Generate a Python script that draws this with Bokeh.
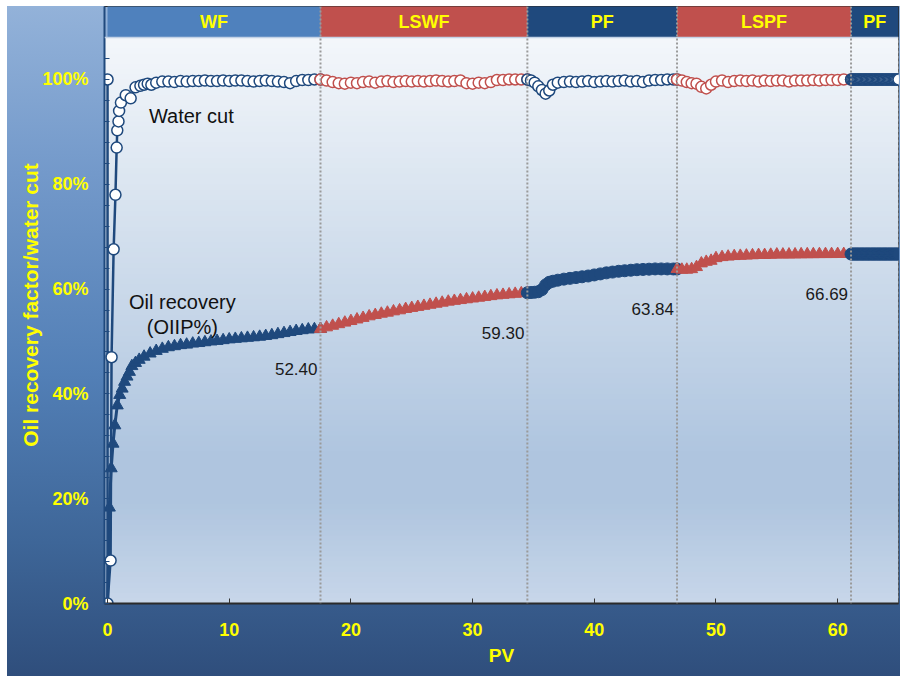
import numpy as np
from bokeh.plotting import figure
from bokeh.models import Range1d, FixedTicker, PrintfTickFormatter, Span
from bokeh.core.properties import value
from bokeh.embed import file_html
from bokeh.resources import INLINE

# ---------------- data ----------------
phase_names = ["WF", "LSWF", "PF", "LSPF", "PF"]
phase_bounds = [0.0, 17.5, 34.5, 46.8, 61.1, 65.0]
end_recovery = [52.40, 59.30, 63.84, 66.69]

x_ticks = [0, 10, 20, 30, 40, 50, 60]
y_ticks = [0, 20, 40, 60, 80, 100]
y_minor_ticks = [4, 8, 12, 16, 24, 28, 32, 36, 44, 48, 52, 56, 64, 68, 72, 76,
                 84, 88, 92, 96, 104, 108]

# WF
pv_wf_oil = [0, 0.15, 0.3, 0.45, 0.6, 0.8, 1.0, 1.2, 1.4, 1.6, 1.8, 2.0, 2.3, 2.6,
             3.0, 3.5, 4.0, 4.5, 5.0, 5.5, 6.0, 6.5, 7.0, 7.5, 8.0, 8.5, 9.0, 9.5,
             10.0, 10.5, 11.0, 11.5, 12.0, 12.5, 13.0, 13.5, 14.0, 14.5, 15.0,
             15.5, 16.0, 16.5, 17.0, 17.5]
oil_wf = [0, 18.3, 25.8, 30.5, 34.0, 37.8, 39.8, 41.0, 42.3, 43.3, 44.2, 45.3, 45.9, 46.5,
          47.1, 47.7, 48.2, 48.6, 48.9, 49.1, 49.3, 49.4, 49.6, 49.7, 49.85, 50.0, 50.1, 50.25,
          50.4, 50.5, 50.6, 50.7, 50.8, 50.9, 51.05, 51.2, 51.4, 51.6, 51.8,
          52.0, 52.15, 52.3, 52.35, 52.4]
pv_wf_wc = [0, 0, 0.25, 0.33, 0.5, 0.65, 0.75, 0.8, 0.9, 0.95, 1.1, 1.5, 1.9, 2.3, 2.7,
            3.0, 3.3, 3.6, 4.0, 4.5, 5.0, 5.5, 6.0, 6.5, 7.0, 7.5, 8.0, 8.5, 9.0, 9.5,
            10.0, 10.5, 11.0, 11.5, 12.0, 12.5, 13.0, 13.5, 14.0, 14.5, 15.0, 15.5,
            16.0, 16.5, 17.0, 17.5]
wc_wf = [100, 0, 8.2, 47.0, 67.6, 78.0, 87.0, 90.3, 92.0, 94.0, 95.6, 97.0, 96.4, 98.5, 98.8,
         99.0, 99.2, 99.0, 99.4, 99.6, 99.6, 99.5, 99.7, 99.6, 99.7, 99.7, 99.8, 99.7, 99.7, 99.8,
         99.7, 99.8, 99.8, 99.7, 99.6, 99.7, 99.8, 99.7, 99.6, 99.5, 99.3, 99.7,
         99.9, 99.9, 100, 100]

# LSWF
pv_lswf = [17.5, 18.0, 18.5, 19.0, 19.5, 20.0, 20.5, 21.0, 21.5, 22.0, 22.5, 23.0,
           23.5, 24.0, 24.5, 25.0, 25.5, 26.0, 26.5, 27.0, 27.5, 28.0, 28.5, 29.0,
           29.5, 30.0, 30.5, 31.0, 31.5, 32.0, 32.5, 33.0, 33.5, 34.0, 34.5]
oil_lswf = [52.4, 52.7, 53.0, 53.3, 53.6, 53.9, 54.2, 54.5, 54.8, 55.05, 55.3, 55.5,
            55.75, 55.95, 56.2, 56.4, 56.6, 56.8, 57.0, 57.2, 57.4, 57.6, 57.75, 57.9,
            58.05, 58.2, 58.35, 58.5, 58.65, 58.8, 58.9, 59.0, 59.1, 59.2, 59.3]
wc_lswf = [100, 99.8, 99.5, 99.3, 99.2, 99.4, 99.3, 99.5, 99.6, 99.4, 99.6, 99.7,
           99.5, 99.6, 99.7, 99.6, 99.7, 99.6, 99.7, 99.8, 99.7, 99.6, 99.7, 99.8,
           99.3, 99.2, 99.4, 99.3, 99.5, 99.9, 99.9, 100, 100, 100, 100]

# PF
pv_pf1 = [34.5, 34.8, 35.1, 35.4, 35.7, 36.0, 36.3, 36.6, 37.0, 37.5, 38.0, 38.5,
          39.0, 39.5, 40.0, 40.5, 41.0, 41.5, 42.0, 42.5, 43.0, 43.5, 44.0, 44.5,
          45.0, 45.5, 46.0, 46.5, 46.8]
oil_pf1 = [59.3, 59.35, 59.4, 59.5, 59.9, 60.8, 61.3, 61.5, 61.7, 61.9, 62.05, 62.2,
           62.35, 62.5, 62.7, 62.9, 63.1, 63.25, 63.4, 63.5, 63.6, 63.7, 63.75, 63.8,
           63.85, 63.85, 63.85, 63.84, 63.84]
wc_pf1 = [100, 99.8, 99.4, 98.7, 98.0, 97.3, 97.9, 99.0, 99.4, 99.5, 99.6, 99.5,
          99.6, 99.7, 99.5, 99.6, 99.7, 99.6, 99.7, 99.8, 99.6, 99.7, 99.5, 99.8,
          99.9, 99.9, 100, 100, 100]

# LSPF
pv_lspf = [46.8, 47.2, 47.6, 48.0, 48.4, 48.8, 49.2, 49.6, 50.0, 50.5, 51.0, 51.5,
           52.0, 52.5, 53.0, 53.5, 54.0, 54.5, 55.0, 55.5, 56.0, 56.5, 57.0, 57.5,
           58.0, 58.5, 59.0, 59.5, 60.0, 60.5, 61.1]
oil_lspf = [63.84, 63.7, 63.7, 63.8, 64.2, 64.9, 65.2, 65.4, 65.9, 66.1, 66.2, 66.3,
            66.35, 66.4, 66.45, 66.5, 66.5, 66.55, 66.6, 66.6, 66.6, 66.62, 66.64, 66.65,
            66.66, 66.67, 66.68, 66.68, 66.69, 66.69, 66.69]
wc_lspf = [100, 99.8, 99.5, 99.3, 99.2, 98.6, 98.3, 99.0, 99.6, 99.8, 99.5, 99.7,
           99.8, 99.7, 99.8, 99.6, 99.8, 99.7, 99.8, 99.8, 99.6, 99.8, 99.8, 99.8,
           99.9, 99.8, 99.9, 99.9, 99.9, 100, 100]

# PF (final)
pv_pf2 = [61.1, 61.2, 61.3, 61.4, 61.5, 61.6, 61.7, 61.8, 61.9, 62.0,
          62.1, 62.2, 62.3, 62.4, 62.5, 62.6, 62.7, 62.8, 62.9, 63.0,
          63.1, 63.2, 63.3, 63.4, 63.5, 63.6, 63.7, 63.8, 63.9, 64.0,
          64.1, 64.2, 64.3, 64.4, 64.5, 64.6, 64.7, 64.8, 64.9, 65.0]
oil_pf2 = [66.69, 66.69, 66.69, 66.69, 66.69, 66.69, 66.69, 66.69, 66.69, 66.69,
           66.69, 66.69, 66.69, 66.69, 66.69, 66.69, 66.69, 66.69, 66.69, 66.69,
           66.69, 66.69, 66.69, 66.69, 66.69, 66.69, 66.69, 66.69, 66.69, 66.69,
           66.69, 66.69, 66.69, 66.69, 66.69, 66.69, 66.69, 66.69, 66.69, 66.69]
wc_pf2 = [100, 100, 100, 100, 100, 100, 100, 100, 100, 100,
          100, 100, 100, 100, 100, 100, 100, 100, 100, 100,
          100, 100, 100, 100, 100, 100, 100, 100, 100, 100,
          100, 100, 100, 100, 100, 100, 100, 100, 100, 100]

# ---------------- styling ----------------
BLUE = "#1f497d"
RED = "#c0504d"
band_colors = ["#4f81bd", RED, BLUE, RED, BLUE]
YELLOW = "#ffff00"
FONT = "Liberation Sans"

X_START = -0.25
X_END = 65.0
Y_TOP = 113.93
BAND_BOTTOM = 108

p = figure(width=900, height=676, output_backend="svg", toolbar_location=None,
           x_range=Range1d(X_START, X_END), y_range=Range1d(0, Y_TOP),
           min_border_left=104, min_border_right=2, min_border_top=6,
           min_border_bottom=73,
           background_fill_color=None, border_fill_color=None,
           outline_line_color="#2b2b2b", outline_line_width=1)
p.styles = {"background": "linear-gradient(to bottom, #93b2d9 0%, #7399ca 25%, "
                          "#527fb6 55%, #3e6698 80%, #2f4e7c 100%) 7px 6px / 893px 670px no-repeat, #ffffff"}
p.xgrid.visible = False
p.ygrid.visible = False

# plot-area gradient (overlapping strips)
stops_y = [0, 19.7, 29.2, 76.9, 108]
stops_c = ["#c8d7ea", "#afc5df", "#b0c6e0", "#d9e4f0", "#f4f7fb"]
def hex2rgb(h):
    h = h.lstrip("#")
    return [int(h[i:i + 2], 16) for i in (0, 2, 4)]
rgb = np.array([hex2rgb(c) for c in stops_c], dtype=float)
edges = np.linspace(0, BAND_BOTTOM, 109)
mids = (edges[:-1] + edges[1:]) / 2
cols = []
for m in mids:
    r = np.interp(m, stops_y, rgb[:, 0])
    g = np.interp(m, stops_y, rgb[:, 1])
    b = np.interp(m, stops_y, rgb[:, 2])
    cols.append("#%02x%02x%02x" % (int(r), int(g), int(b)))
tops = np.minimum(edges[1:] + 0.5, BAND_BOTTOM)
p.quad(left=X_START, right=X_END, bottom=edges[:-1], top=tops,
       fill_color=cols, line_color=None, level="underlay")

# phase bands on top
p.quad(left=phase_bounds[:-1], right=phase_bounds[1:], bottom=BAND_BOTTOM, top=Y_TOP + 1,
       fill_color=band_colors, line_color=None, level="underlay")
p.add_layout(Span(location=BAND_BOTTOM, dimension="width", line_color="#c3d2e6",
                  line_width=1.5))
centers = [(a + b) / 2 for a, b in zip(phase_bounds[:-1], phase_bounds[1:])]
p.text(x=centers, y=(BAND_BOTTOM + Y_TOP) / 2, text=phase_names,
       text_align="center", text_baseline="middle", text_font=value(FONT),
       text_font_style="bold", text_font_size="18px", text_color=YELLOW)

for b in phase_bounds[1:-1]:
    p.add_layout(Span(location=b, dimension="height", line_color="#9a9a9a",
                      line_width=2, line_dash="2 2"))

# series
segments = [
    (pv_wf_oil, oil_wf, pv_wf_wc, wc_wf, BLUE, "triangle"),
    (pv_lswf, oil_lswf, pv_lswf, wc_lswf, RED, "triangle"),
    (pv_pf1, oil_pf1, pv_pf1, wc_pf1, BLUE, "circle"),
    (pv_lspf, oil_lspf, pv_lspf, wc_lspf, RED, "triangle"),
    (pv_pf2, oil_pf2, pv_pf2, wc_pf2, BLUE, "circle"),
]
for xo, yo, xw, yw, c, mk in segments:
    p.line(xo, yo, line_color=c, line_width=3)
    p.scatter(xo, yo, marker=mk, size=12, fill_color=c, line_color=c)
for xo, yo, xw, yw, c, mk in segments:
    p.line(xw, yw, line_color=c, line_width=2.5)
    p.scatter(xw, yw, marker="circle", size=11, fill_color="white", line_color=c,
              line_width=1.5)

# annotations
p.text(x=phase_bounds[1:5], y=end_recovery, text=["%.2f" % v for v in end_recovery],
       text_align="right", text_baseline="middle", x_offset=-3, y_offset=40,
       text_font=value(FONT), text_font_size="17px", text_color="#1a1a1a")
p.text(x=[3.4], y=[93.1], text=["Water cut"], text_align="left", text_baseline="middle",
       text_font=value(FONT), text_font_size="20px", text_color="#111111")
p.text(x=[6.15, 6.15], y=[57.6, 52.8], text=["Oil recovery", "(OIIP%)"],
       text_align="center", text_baseline="middle",
       text_font=value(FONT), text_font_size="20px", text_color="#111111")

# axes
xa = p.xaxis[0]
xa.ticker = FixedTicker(ticks=x_ticks)
xa.axis_label = "PV"
xa.axis_line_color = "#2b2b2b"
xa.axis_line_width = 2
xa.major_tick_in = 5
xa.major_tick_out = 0
xa.major_tick_line_color = "#333333"
xa.minor_tick_line_color = None
xa.major_label_standoff = 19
xa.axis_label_standoff = 6
xa.major_label_text_font = FONT
xa.major_label_text_font_style = "bold"
xa.major_label_text_font_size = "18px"
xa.major_label_text_color = YELLOW
xa.axis_label_text_font = FONT
xa.axis_label_text_font_style = "bold"
xa.axis_label_text_font_size = "19px"
xa.axis_label_text_color = YELLOW

ya = p.yaxis[0]
ya.ticker = FixedTicker(ticks=y_ticks, minor_ticks=y_minor_ticks)
ya.formatter = PrintfTickFormatter(format="%d%%")
ya.axis_label = "Oil recovery factor/water cut"
ya.axis_line_color = BLUE
ya.axis_line_width = 2
ya.major_tick_in = 5
ya.major_tick_out = 0
ya.minor_tick_in = 5
ya.minor_tick_out = 0
ya.major_tick_line_color = BLUE
ya.minor_tick_line_color = BLUE
ya.major_label_standoff = 16
ya.axis_label_standoff = -3
ya.major_label_text_font = FONT
ya.major_label_text_font_style = "bold"
ya.major_label_text_font_size = "18px"
ya.major_label_text_color = YELLOW
ya.axis_label_text_font = FONT
ya.axis_label_text_font_style = "bold"
ya.axis_label_text_font_size = "21px"
ya.axis_label_text_color = YELLOW

open("out.html", "w").write(file_html(p, INLINE))
